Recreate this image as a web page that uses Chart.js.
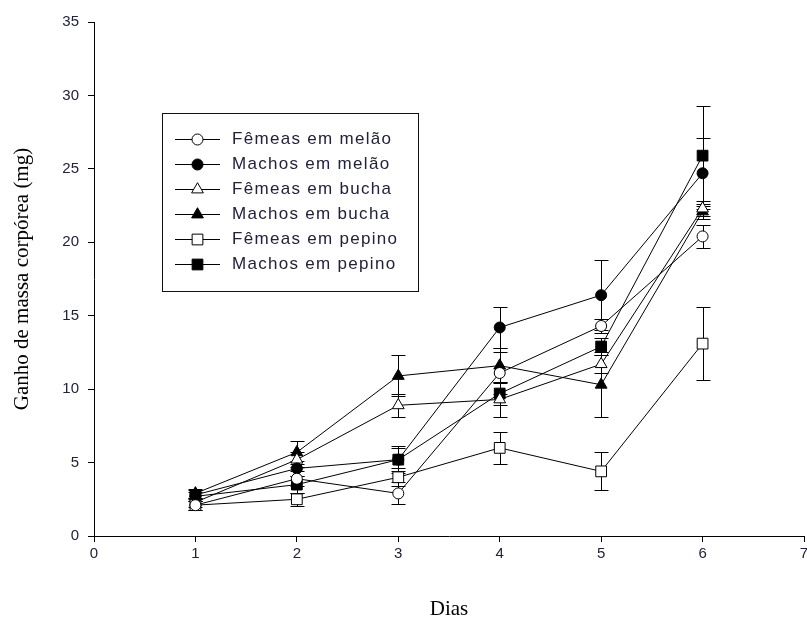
<!DOCTYPE html>
<html>
<head>
<meta charset="utf-8">
<script src="https://cdn.jsdelivr.net/npm/chart.js@4/dist/chart.umd.min.js"></script>
<style>
  html, body { margin: 0; padding: 0; background: #fff; }
  #wrap { width: 807px; height: 622px; }
</style>
</head>
<body>
<div id="wrap"><canvas id="c" width="807" height="622"></canvas></div>
<script>
// Body mass gain (mg) of females and males reared on three host fruits
const days = [1, 2, 3, 4, 5, 6];
const xTicks = [0, 1, 2, 3, 4, 5, 6, 7];
const yTicks = [0, 5, 10, 15, 20, 25, 30, 35];

const seriesNames = [
  'Fêmeas em melão',
  'Machos em melão',
  'Fêmeas em bucha',
  'Machos em bucha',
  'Fêmeas em pepino',
  'Machos em pepino'
];

// mean gain per day
const femeasMelao  = [2.1, 3.9, 2.9, 11.1, 14.3, 20.4];
const machosMelao  = [2.8, 4.6, 5.2, 14.2, 16.4, 24.7];
const femeasBucha  = [2.3, 5.2, 8.9, 9.3, 11.7, 22.3];
const machosBucha  = [2.9, 5.7, 10.9, 11.6, 10.3, 22.1];
const femeasPepino = [2.1, 2.5, 4.0, 6.0, 4.4, 13.1];
const machosPepino = [2.7, 3.5, 5.2, 9.7, 12.9, 25.9];

// standard error per day
const errFemeasMelao  = [0.3, 0.5, 0.75, 1.4, 0.5, 0.8];
const errMachosMelao  = [0.3, 0.5, 0.8, 1.4, 2.4, 2.4];
const errFemeasBucha  = [0.3, 0.5, 0.8, 1.2, 0.6, 0.5];
const errMachosBucha  = [0.3, 0.8, 1.4, 1.2, 2.2, 0.5];
const errFemeasPepino = [0.3, 0.45, 0.6, 1.1, 1.3, 2.5];
const errMachosPepino = [0.3, 0.6, 0.9, 0.8, 0.6, 3.4];

const means = [femeasMelao, machosMelao, femeasBucha, machosBucha, femeasPepino, machosPepino];
const errors = [errFemeasMelao, errMachosMelao, errFemeasBucha, errMachosBucha, errFemeasPepino, errMachosPepino];

const markerStyles = ['circle', 'circle', 'triangle', 'triangle', 'rect', 'rect'];
const markerFilled = [false, true, false, true, false, true];
const markerRadius = { circle: 5.5, triangle: 6.8, rect: 7.6 };

const datasets = means.map((vals, i) => ({
  label: seriesNames[i],
  data: days.map((d, j) => ({ x: d, y: vals[j] })),
  borderColor: '#000',
  borderWidth: 1,
  backgroundColor: markerFilled[i] ? '#000' : '#fff',
  pointStyle: markerStyles[i],
  pointRadius: markerRadius[markerStyles[i]],
  pointHoverRadius: markerRadius[markerStyles[i]],
  pointBackgroundColor: markerFilled[i] ? '#000' : '#fff',
  pointBorderColor: '#000',
  pointBorderWidth: 1,
  tension: 0,
  fill: false
}));

// let the x axis run to the right edge, with the last label half outside
const plotRight = 804;
const stretchX = {
  id: 'stretchX',
  afterLayout(chart) {
    const s = chart.scales.x;
    const area = chart.chartArea;
    s.right = plotRight;
    s.width = s.right - s.left;
    area.right = plotRight;
    area.width = area.right - area.left;
    s.configure();
  }
};

// vertical error bars with caps, drawn under the markers
const errorBars = {
  id: 'errorBars',
  beforeDatasetsDraw(chart) {
    const { ctx, scales: { x, y } } = chart;
    ctx.save();
    ctx.strokeStyle = '#000';
    ctx.lineWidth = 1;
    means.forEach((vals, i) => {
      vals.forEach((v, j) => {
        const e = errors[i][j];
        const px = Math.round(x.getPixelForValue(days[j])) + 0.5;
        const top = Math.round(y.getPixelForValue(v + e)) + 0.5;
        const bot = Math.round(y.getPixelForValue(v - e)) + 0.5;
        ctx.beginPath();
        ctx.moveTo(px, top); ctx.lineTo(px, bot);
        ctx.moveTo(px - 7, top); ctx.lineTo(px + 7, top);
        ctx.moveTo(px - 7, bot); ctx.lineTo(px + 7, bot);
        ctx.stroke();
      });
    });
    ctx.restore();
  }
};

// boxed legend inside the plot area
const boxLegend = {
  id: 'boxLegend',
  afterDraw(chart) {
    const ctx = chart.ctx;
    const left = 162.5, top = 113.5, right = 418.5, bottom = 291.5;
    ctx.save();
    ctx.strokeStyle = '#111';
    ctx.lineWidth = 1;
    ctx.strokeRect(left, top, right - left, bottom - top);
    const rowY0 = 139, rowStep = 25;
    ctx.font = '17px "Liberation Sans", Arial, sans-serif';
    if ('letterSpacing' in ctx) ctx.letterSpacing = '1.3px';
    ctx.textBaseline = 'middle';
    ctx.textAlign = 'left';
    chart.data.datasets.forEach((ds, i) => {
      const yy = Math.round(rowY0 + i * rowStep) + 0.5;
      ctx.strokeStyle = '#000';
      ctx.lineWidth = 1;
      ctx.beginPath();
      ctx.moveTo(175, yy); ctx.lineTo(220, yy);
      ctx.stroke();
      ctx.fillStyle = ds.pointBackgroundColor;
      ctx.strokeStyle = '#000';
      Chart.helpers.drawPoint(ctx, {
        pointStyle: ds.pointStyle,
        radius: ds.pointRadius,
        rotation: 0,
        borderWidth: 1
      }, 197.5, yy);
      ctx.fillStyle = '#22223a';
      ctx.fillText(ds.label, 232, yy);
    });
    ctx.restore();
  }
};

const tickFont = { family: '"Liberation Sans", Arial, sans-serif', size: 15 };
const titleFont = { family: '"Liberation Serif", "Times New Roman", serif', size: 21 };

new Chart(document.getElementById('c'), {
  type: 'line',
  data: { datasets },
  plugins: [stretchX, errorBars, boxLegend],
  options: {
    responsive: false,
    animation: false,
    layout: { padding: { top: 22, left: 0, right: 0, bottom: 0 } },
    plugins: { legend: { display: false }, tooltip: { enabled: false } },
    scales: {
      x: {
        type: 'linear',
        min: 0, max: 7,
        afterBuildTicks(s) { s.ticks = xTicks.map(v => ({ value: v })); },
        afterFit(s) { s.height = 86; },
        border: { display: true, color: '#000', width: 1 },
        grid: { drawOnChartArea: false, drawTicks: true, tickLength: 6, color: '#000' },
        ticks: { color: '#22223a', font: tickFont, padding: 3, maxRotation: 0 },
        title: { display: true, text: 'Dias', color: '#000', font: titleFont, padding: { top: 26, bottom: 0 } }
      },
      y: {
        type: 'linear',
        min: 0, max: 35,
        afterBuildTicks(s) { s.ticks = yTicks.map(v => ({ value: v })); },
        afterFit(s) { s.width = 94; },
        border: { display: true, color: '#000', width: 1 },
        grid: { drawOnChartArea: false, drawTicks: true, tickLength: 6, color: '#000' },
        ticks: { color: '#22223a', font: tickFont, padding: 9 },
        title: { display: true, text: 'Ganho de massa corpórea (mg)', color: '#000', font: titleFont, padding: { top: 10, bottom: 0 } }
      }
    }
  }
});
</script>
</body>
</html>
